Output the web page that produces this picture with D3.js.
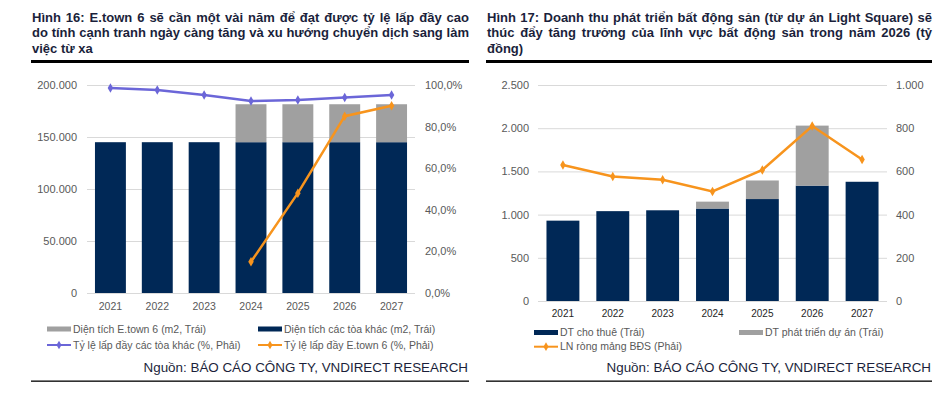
<!DOCTYPE html>
<html>
<head>
<meta charset="utf-8">
<script src="https://cdn.jsdelivr.net/npm/d3@7"></script>
<style>
  body { margin: 0; background: #fff; }
  svg { display: block; font-family: "Liberation Sans", Arial, sans-serif; }
</style>
</head>
<body>
<svg id="vis" width="941" height="395"></svg>
<script>
// ---- data ----
const years = ['2021', '2022', '2023', '2024', '2025', '2026', '2027'];

// Hình 16
const otherArea = [145000, 145000, 145000, 145000, 145000, 145000, 145000];
const etownArea = [0, 0, 0, 36500, 36500, 36500, 36500];
const otherOcc = [98.6, 97.6, 95.2, 92.3, 92.8, 94.0, 95.2];
const etownOcc = [null, null, null, 15, 48, 85, 90];
const areaTicks = [0, 50000, 100000, 150000, 200000];
const occTicks = [0, 20, 40, 60, 80, 100];

// Hình 17
const rentRev = [930, 1040, 1050, 1070, 1180, 1335, 1380];
const devRev = [0, 0, 0, 80, 215, 695, 0];
const netProfit = [630, 576, 561, 507, 607, 810, 655];
const revTicks = [0, 500, 1000, 1500, 2000, 2500];
const profitTicks = [0, 200, 400, 600, 800, 1000];

const title16 = [
  'Hình 16: E.town 6 sẽ cần một vài năm để đạt được tỷ lệ lấp đầy cao',
  'do tính cạnh tranh ngày càng tăng và xu hướng chuyển dịch sang làm',
  'việc từ xa'
];
const title17 = [
  'Hình 17: Doanh thu phát triển bất động sản (từ dự án Light Square) sẽ',
  'thúc đẩy tăng trưởng của lĩnh vực bất động sản trong năm 2026 (tỷ',
  'đồng)'
];
const legend16 = [
  'Diện tích E.town 6 (m2, Trái)', 'Diện tích các tòa khác (m2, Trái)',
  'Tỷ lệ lấp đầy các tòa khác (%, Phải)', 'Tỷ lệ lấp đầy E.town 6 (%, Phải)'
];
const legend17 = ['DT cho thuê (Trái)', 'DT phát triển dự án (Trái)', 'LN ròng mảng BĐS (Phải)'];
const source = 'Nguồn: BÁO CÁO CÔNG TY, VNDIRECT RESEARCH';

// ---- styles ----
const NAVY = '#002856';
const GREY = '#a0a0a0';
const BLUE = '#6b66d8';
const ORANGE = '#f7941d';
const GRID = '#d9d9d9';
const TITLE = '#1b1f3b';

const vn = d3.formatLocale({ decimal: ',', thousands: '.', grouping: [3], currency: ['', ''] });
const fmtNum = vn.format(',.0f');
const fmtPct = (d) => vn.format(',.1f')(d) + '%';

const svg = d3.select('#vis');

// justified title, word by word
function drawTitle(lines, x0, x1) {
  let g = svg.append('g')
    .style('font-size', '13px')
    .style('font-weight', 'bold')
    .attr('fill', TITLE);
  lines.forEach((line, i) => {
    let y = 21.5 + i * 15.5;
    let words = line.split(' ');
    let nodes = words.map((w) => g.append('text').attr('y', y).text(w));
    let widths = nodes.map((n) => n.node().getComputedTextLength());
    let gap = 3.6;
    if (i < lines.length - 1) {
      gap = (x1 - x0 - d3.sum(widths)) / (words.length - 1);
    }
    let x = x0;
    nodes.forEach((n, j) => {
      n.attr('x', x);
      x += widths[j] + gap;
    });
  });
  svg.append('rect')
    .attr('x', x0 - 1).attr('y', 60)
    .attr('width', x1 - x0 + 1).attr('height', 3)
    .attr('fill', '#000');
  svg.append('rect')
    .attr('x', x0 - 1).attr('y', 380.5)
    .attr('width', x1 - x0 + 1).attr('height', 1.3)
    .attr('fill', '#000');
  svg.append('text')
    .attr('x', x1 - 1).attr('y', 371.5)
    .attr('text-anchor', 'end')
    .style('font-size', '13.4px')
    .attr('fill', TITLE)
    .text(source);
}

function styleAxis(g, color) {
  g.select('.domain').remove();
  g.selectAll('text')
    .attr('fill', color)
    .style('font-size', '11px')
    .style('font-family', '"Liberation Sans", Arial, sans-serif');
}

function drawGrid(y, ticks, x0, x1) {
  svg.append('g')
    .attr('transform', `translate(${x0},0)`)
    .call(d3.axisLeft(y).tickValues(ticks).tickSize(-(x1 - x0)).tickFormat(''))
    .call((g) => {
      g.select('.domain').remove();
      g.selectAll('line').attr('stroke', GRID);
    });
}

function marker(g, data, x, y, color) {
  g.selectAll(null)
    .data(data)
    .enter().append('path')
    .attr('d', d3.symbol().type(d3.symbolDiamond).size(26))
    .attr('transform', (d) => `translate(${x(d)},${y(d)})`)
    .attr('fill', color);
}

function legendRect(x, y, color, label, size) {
  svg.append('rect')
    .attr('x', x).attr('y', y - 2.5)
    .attr('width', 24).attr('height', 5)
    .attr('fill', color);
  svg.append('text')
    .attr('x', x + 26).attr('y', y + 3.6)
    .style('font-size', size)
    .attr('fill', '#595959')
    .text(label);
}

function legendLine(x, y, color, label, size) {
  svg.append('line')
    .attr('x1', x).attr('x2', x + 24)
    .attr('y1', y).attr('y2', y)
    .attr('stroke', color).attr('stroke-width', 2);
  svg.append('path')
    .attr('d', d3.symbol().type(d3.symbolDiamond).size(22))
    .attr('transform', `translate(${x + 12},${y})`)
    .attr('fill', color);
  svg.append('text')
    .attr('x', x + 26).attr('y', y + 3.6)
    .style('font-size', size)
    .attr('fill', '#595959')
    .text(label);
}

// ================= Hình 16 =================
(function () {
  let x0 = 87, x1 = 415, yb = 293, yt = 85;
  drawTitle(title16, 32, 469);

  let x = d3.scaleBand().domain(years).range([x0, x1]).paddingInner(0.34).paddingOuter(0.17);
  let y = d3.scaleLinear().domain([0, 200000]).range([yb, yt]);
  let yR = d3.scaleLinear().domain([0, 100]).range([yb, yt]);

  drawGrid(y, areaTicks, x0, x1);

  svg.append('g')
    .attr('transform', `translate(${x0},0)`)
    .call(d3.axisLeft(y).tickValues(areaTicks).tickSize(0).tickPadding(10).tickFormat(fmtNum))
    .call((g) => styleAxis(g, '#595959'));
  svg.append('g')
    .attr('transform', `translate(${x1},0)`)
    .call(d3.axisRight(yR).tickValues(occTicks).tickSize(0).tickPadding(10).tickFormat(fmtPct))
    .call((g) => styleAxis(g, '#595959'));
  svg.append('g')
    .attr('transform', `translate(0,${yb})`)
    .call(d3.axisBottom(x).tickSize(0).tickPadding(9.4))
    .call((g) => { styleAxis(g, '#595959'); g.selectAll('text').style('font-size', '10.5px'); });

  let rows = years.map((yr, i) => ({ yr, other: otherArea[i], etown: etownArea[i] }));
  svg.append('g').selectAll('rect')
    .data(rows).enter().append('rect')
    .attr('x', (d) => x(d.yr))
    .attr('width', x.bandwidth())
    .attr('y', (d) => y(d.other))
    .attr('height', (d) => y(0) - y(d.other))
    .attr('fill', NAVY);
  svg.append('g').selectAll('rect')
    .data(rows.filter((d) => d.etown > 0)).enter().append('rect')
    .attr('x', (d) => x(d.yr))
    .attr('width', x.bandwidth())
    .attr('y', (d) => y(d.other + d.etown))
    .attr('height', (d) => y(d.other) - y(d.other + d.etown))
    .attr('fill', GREY);

  let cx = (d) => x(d.yr) + x.bandwidth() / 2;
  let lineG = svg.append('g');
  let occ1 = years.map((yr, i) => ({ yr, v: otherOcc[i] }));
  let occ2 = years.map((yr, i) => ({ yr, v: etownOcc[i] })).filter((d) => d.v != null);
  let line = d3.line().x(cx).y((d) => yR(d.v));

  lineG.append('path').datum(occ1)
    .attr('d', line).attr('fill', 'none')
    .attr('stroke', BLUE).attr('stroke-width', 2.5);
  marker(lineG, occ1, cx, (d) => yR(d.v), BLUE);
  lineG.append('path').datum(occ2)
    .attr('d', line).attr('fill', 'none')
    .attr('stroke', ORANGE).attr('stroke-width', 2.5);
  marker(lineG, occ2, cx, (d) => yR(d.v), ORANGE);

  legendRect(47, 329, GREY, legend16[0], '10.5px');
  legendRect(258, 329, NAVY, legend16[1], '10.5px');
  legendLine(47, 345, BLUE, legend16[2], '10.5px');
  legendLine(258, 345, ORANGE, legend16[3], '10.5px');
})();

// ================= Hình 17 =================
(function () {
  let x0 = 538, x1 = 887, yb = 301, yt = 85;
  drawTitle(title17, 487, 932);

  let x = d3.scaleBand().domain(years).range([x0, x1]).paddingInner(0.34).paddingOuter(0.17);
  let y = d3.scaleLinear().domain([0, 2500]).range([yb, yt]);
  let yR = d3.scaleLinear().domain([0, 1000]).range([yb, yt]);

  drawGrid(y, revTicks, x0, x1);

  svg.append('g')
    .attr('transform', `translate(${x0},0)`)
    .call(d3.axisLeft(y).tickValues(revTicks).tickSize(0).tickPadding(9).tickFormat(fmtNum))
    .call((g) => styleAxis(g, '#595959'));
  svg.append('g')
    .attr('transform', `translate(${x1},0)`)
    .call(d3.axisRight(yR).tickValues(profitTicks).tickSize(0).tickPadding(9).tickFormat(fmtNum))
    .call((g) => styleAxis(g, '#595959'));
  svg.append('g')
    .attr('transform', `translate(0,${yb})`)
    .call(d3.axisBottom(x).tickSize(0).tickPadding(8.4))
    .call((g) => { styleAxis(g, '#262626'); g.selectAll('text').style('font-size', '10px'); });

  let rows = years.map((yr, i) => ({ yr, rent: rentRev[i], dev: devRev[i] }));
  svg.append('g').selectAll('rect')
    .data(rows).enter().append('rect')
    .attr('x', (d) => x(d.yr))
    .attr('width', x.bandwidth())
    .attr('y', (d) => y(d.rent))
    .attr('height', (d) => y(0) - y(d.rent))
    .attr('fill', NAVY);
  svg.append('g').selectAll('rect')
    .data(rows.filter((d) => d.dev > 0)).enter().append('rect')
    .attr('x', (d) => x(d.yr))
    .attr('width', x.bandwidth())
    .attr('y', (d) => y(d.rent + d.dev))
    .attr('height', (d) => y(d.rent) - y(d.rent + d.dev))
    .attr('fill', GREY);

  let cx = (d) => x(d.yr) + x.bandwidth() / 2;
  let pts = years.map((yr, i) => ({ yr, v: netProfit[i] }));
  let line = d3.line().x(cx).y((d) => yR(d.v));
  let lineG = svg.append('g');
  lineG.append('path').datum(pts)
    .attr('d', line).attr('fill', 'none')
    .attr('stroke', ORANGE).attr('stroke-width', 2.5);
  marker(lineG, pts, cx, (d) => yR(d.v), ORANGE);

  legendRect(534, 332.5, NAVY, legend17[0], '10.5px');
  legendRect(739, 332.5, GREY, legend17[1], '10.5px');
  legendLine(534, 346.7, ORANGE, legend17[2], '10.5px');
})();
</script>
</body>
</html>
